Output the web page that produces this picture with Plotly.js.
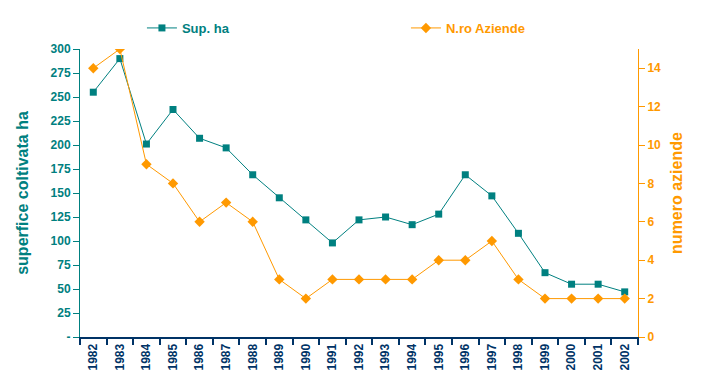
<!DOCTYPE html>
<html>
<head>
<meta charset="utf-8">
<script src="https://cdn.plot.ly/plotly-3.0.1.min.js"></script>
<style>html,body{margin:0;padding:0;background:#fff;}#chart{width:709px;height:392px;}</style>
</head>
<body>
<div id="chart"></div>
<script>
const years = ["1982","1983","1984","1985","1986","1987","1988","1989","1990","1991","1992","1993","1994","1995","1996","1997","1998","1999","2000","2001","2002"];
const supHa = [255, 290, 201, 237, 207, 197, 169, 145, 122, 98, 122, 125, 117, 128, 169, 147, 108, 67, 55, 55, 47];
const nAziende = [14, 15, 9, 8, 6, 7, 6, 3, 2, 3, 3, 3, 3, 4, 4, 5, 3, 2, 2, 2, 2];
const leftTickVals = [0, 25, 50, 75, 100, 125, 150, 175, 200, 225, 250, 275, 300];
const leftTickText = ["-", "25", "50", "75", "100", "125", "150", "175", "200", "225", "250", "275", "300"];
const rightTickVals = [0, 2, 4, 6, 8, 10, 12, 14];

const teal = "#008080";
const orange = "#FF9900";
const navy = "#003366";
const font = "Arial, 'Liberation Sans', sans-serif";

const traces = [
  {
    x: years, y: supHa, name: '<span style="color:#008080">Sup. ha</span>',
    type: "scatter", mode: "lines+markers",
    line: {color: teal, width: 1},
    marker: {symbol: "square", size: 7, color: teal},
    yaxis: "y"
  },
  {
    x: years, y: nAziende, name: '<span style="color:#FF9900">N.ro Aziende</span>',
    type: "scatter", mode: "lines+markers",
    line: {color: orange, width: 1},
    marker: {symbol: "diamond", size: 8, color: orange},
    yaxis: "y2"
  }
];

const layout = {
  width: 709, height: 392,
  margin: {l: 80, r: 71, t: 49, b: 55, autoexpand: false},
  paper_bgcolor: "#fff", plot_bgcolor: "#fff",
  font: {family: font, size: 12, color: navy, weight: "bold"},
  showlegend: true,
  legend: {
    orientation: "h", x: 0.111, xanchor: "left", y: 1.073, yanchor: "middle",
    font: {family: font, size: 13, weight: "bold"},
    entrywidth: 219, entrywidthmode: "pixels",
    bgcolor: "rgba(0,0,0,0)"
  },
  xaxis: {
    type: "category", range: [-0.5, 20.5],
    showgrid: false, zeroline: false,
    showline: true, linecolor: navy, linewidth: 2,
    ticks: "outside", tickson: "boundaries", ticklen: 6, tickcolor: navy, tickwidth: 2,
    tickangle: -90, tickfont: {family: font, size: 12, color: navy, weight: "bold"},
    fixedrange: true
  },
  yaxis: {
    range: [0, 300], tickvals: leftTickVals, ticktext: leftTickText,
    showgrid: false, zeroline: false,
    showline: true, linecolor: teal, linewidth: 1,
    ticks: "outside", ticklen: 6, tickcolor: teal,
    tickfont: {family: font, size: 12, color: teal, weight: "bold"},
    title: {text: "superfice coltivata ha", font: {family: font, size: 16, color: teal, weight: "bold"}, standoff: 17}
  },
  yaxis2: {
    overlaying: "y", side: "right", range: [0, 15], tickvals: rightTickVals,
    showgrid: false, zeroline: false,
    showline: true, linecolor: orange, linewidth: 1,
    ticks: "outside", ticklen: 6, tickcolor: orange,
    tickfont: {family: font, size: 12, color: orange, weight: "bold"},
    title: {text: "numero aziende", font: {family: font, size: 16, color: orange, weight: "bold"}, standoff: 10}
  }
};

Plotly.newPlot("chart", traces, layout, {displayModeBar: false, staticPlot: true});
</script>
</body>
</html>
